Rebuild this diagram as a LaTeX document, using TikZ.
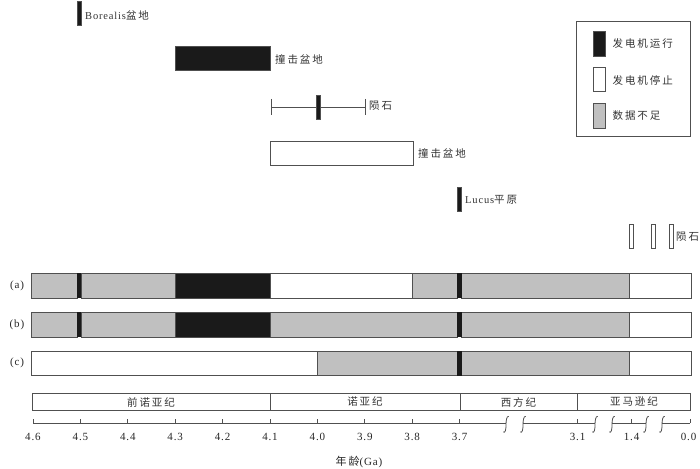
\documentclass[tikz,border=0pt]{standalone}
\usepackage{fontspec}
\setmainfont[LetterSpace=8]{Liberation Serif}
\newfontfamily\cjk[LetterSpace=18]{Noto Sans CJK SC}
\definecolor{gfill}{RGB}{192,192,192}
\definecolor{kfill}{RGB}{26,26,26}
\definecolor{edge}{RGB}{80,80,80}
\begin{document}
\begin{tikzpicture}[x=1pt,y=-1pt,
  box/.style={draw=edge,line width=0.9pt},
  blk/.style={box,fill=kfill},
  gry/.style={box,fill=gfill},
  wht/.style={box,fill=white},
  axisline/.style={draw=edge,line width=0.9pt},
  lbl/.style={font=\fontsize{10.5}{12}\selectfont,inner sep=0pt,anchor=west,text=black!80},
  clbl/.style={font=\fontsize{10.5}{12}\selectfont,inner sep=0pt,text=black!80},
  tlbl/.style={font=\fontsize{11}{12}\selectfont,inner sep=0pt,text=black!85}]
\useasboundingbox (0,0) rectangle (700,468);

% ---- top events ----
\draw[blk] (77.5,1) rectangle (81.5,25);
\node[lbl] (bor) at (85,15) {Borealis{\cjk 盆地}};
\draw[blk] (175,46) rectangle (270,70);
\node[lbl] (imp1) at (275,59) {\cjk 撞击盆地};
\coordinate (m1) at (271,107);
\coordinate (m2) at (365,107);
\draw[axisline] (m1) -- (m2);
\draw[axisline] (271,99) -- (271,115);
\draw[axisline] (365,99) -- (365,115);
\draw[blk] (316,95) rectangle (320,119);
\node[lbl] (met1) at (369,106) {\cjk 陨石};
\draw[wht] (270,141) rectangle (413,165);
\node[lbl] (imp2) at (418,153) {\cjk 撞击盆地};
\draw[blk] (457.5,187) rectangle (461.5,211.5);
\node[lbl] (luc) at (465,199.5) {Lucus{\cjk 平原}};
\draw[wht] (629,224) rectangle (633,248);
\draw[wht] (651.5,224) rectangle (655.5,248);
\draw[wht] (669.5,224) rectangle (673.5,248);
\node[lbl] (met2) at (676,237) {\cjk 陨石};

% ---- legend ----
\draw[axisline] (576,21) rectangle (690,136.5);
\draw[blk] (593,31) rectangle (605,56);
\draw[wht] (593,67) rectangle (605,91.5);
\draw[gry] (593,103.5) rectangle (605,128);
\node[lbl] (lg1) at (612.5,44) {\cjk 发电机运行};
\node[lbl] (lg2) at (612.5,80) {\cjk 发电机停止};
\node[lbl] (lg3) at (612.5,116) {\cjk 数据不足};

% ---- rows ----
\node[tlbl] (ra) at (17,286) {(a)};
\node[tlbl] (rb) at (17,325) {(b)};
\node[tlbl] (rc) at (17,363) {(c)};

% (a)
\draw[gry] (31,273) rectangle (77,298);
\draw[gry] (81,273) rectangle (175,298);
\draw[blk] (175,273) rectangle (270,298);
\draw[wht] (270,273) rectangle (412,298);
\draw[gry] (412,273) rectangle (457,298);
\draw[gry] (461,273) rectangle (629,298);
\draw[wht] (629,273) rectangle (691,298);
\fill[kfill] (76.5,273) rectangle (81,298);
\fill[kfill] (457,273) rectangle (461.5,298);
% (b)
\draw[gry] (31,312) rectangle (77,337);
\draw[gry] (81,312) rectangle (175,337);
\draw[blk] (175,312) rectangle (270,337);
\draw[gry] (270,312) rectangle (457,337);
\draw[gry] (461,312) rectangle (629,337);
\draw[wht] (629,312) rectangle (691,337);
\fill[kfill] (76.5,312) rectangle (81,337);
\fill[kfill] (457,312) rectangle (461.5,337);
% (c)
\draw[wht] (31,351) rectangle (317,375.5);
\draw[gry] (317,351) rectangle (457,375.5);
\draw[gry] (461,351) rectangle (629,375.5);
\draw[wht] (629,351) rectangle (691,375.5);
\fill[kfill] (457,351) rectangle (461.5,375.5);

% ---- periods ----
\draw[box] (32.5,393.5) rectangle (270,410.5);
\draw[box] (270,393.5) rectangle (460,410.5);
\draw[box] (460,393.5) rectangle (577,410.5);
\draw[box] (577,393.5) rectangle (690.5,410.5);
\node[clbl] (p1) at (151,402) {\cjk 前诺亚纪};
\node[clbl] (p2) at (365,402) {\cjk 诺亚纪};
\node[clbl] (p3) at (518.5,402) {\cjk 西方纪};
\node[clbl] (p4) at (634,402) {\cjk 亚马逊纪};

% ---- axis ----
\coordinate (a0) at (33,423);
\coordinate (b1) at (506,423);
\coordinate (b2) at (523,423);
\coordinate (b3) at (595,423);
\coordinate (b4) at (612,423);
\coordinate (b5) at (646,423);
\coordinate (b6) at (662,423);
\coordinate (a9) at (690,423);
\draw[axisline] (a0) -- (b1);
\draw[axisline] (b2) -- (b3);
\draw[axisline] (b4) -- (b5);
\draw[axisline] (b6) -- (a9);
\foreach \c in {b1,b2,b3,b4,b5,b6}{
  \draw[axisline,line width=0.8pt]
    ([shift={(-2.8,9)}]\c) .. controls ([shift={(-0.6,10.5)}]\c) and ([shift={(0,6)}]\c) .. ([shift={(0,2)}]\c)
    .. controls ([shift={(0,-2)}]\c) and ([shift={(0.6,-7.5)}]\c) .. ([shift={(2.8,-6.5)}]\c);
}
\foreach \k/\t in {0/4.6,1/4.5,2/4.4,3/4.3,4/4.2,5/4.1,6/4.0,7/3.9,8/3.8,9/3.7}{
  \draw[axisline] (33+47.4*\k,419) -- (33+47.4*\k,423);
  \node[tlbl] (tk\k) at (33+47.4*\k,437) {\t};
}
\draw[axisline] (577.5,419) -- (577.5,423);
\node[tlbl] (tk31) at (577.5,437) {3.1};
\draw[axisline] (631.5,419) -- (631.5,423);
\node[tlbl] (tk14) at (631.5,437) {1.4};
\draw[axisline] (690,419) -- (690,423);
\node[tlbl] (tk00) at (688.5,437) {0.0};
\node[tlbl] (xt) at (359,462) {{\cjk 年龄}(Ga)};
\end{tikzpicture}
\end{document}
